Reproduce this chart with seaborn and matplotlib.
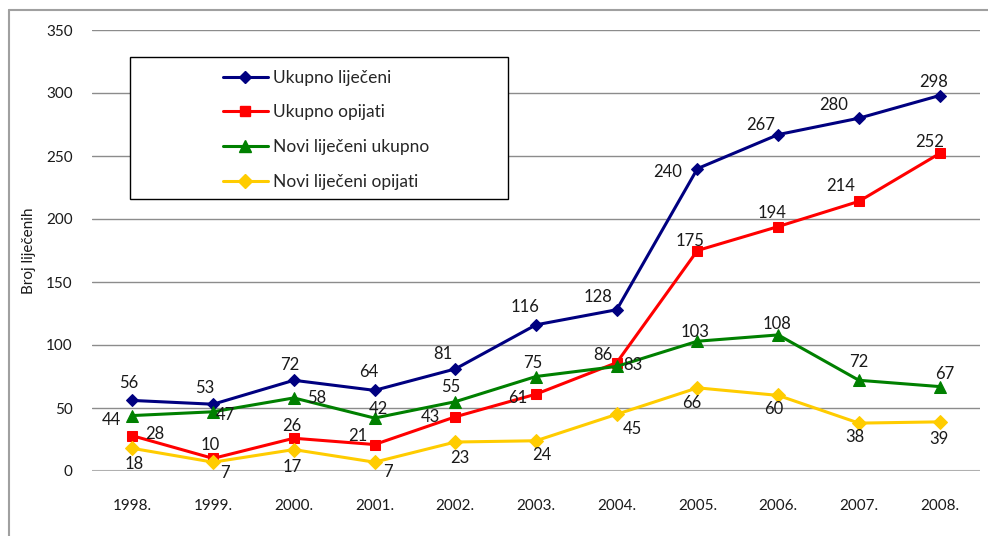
import numpy as np
import pandas as pd
import matplotlib.pyplot as plt
import seaborn as sns
from matplotlib.patches import Rectangle
from matplotlib.lines import Line2D

# --- data ---
years = ['1998.', '1999.', '2000.', '2001.', '2002.', '2003.',
         '2004.', '2005.', '2006.', '2007.', '2008.']
ukupno_lijeceni = [56, 53, 72, 64, 81, 116, 128, 240, 267, 280, 298]
ukupno_opijati = [28, 10, 26, 21, 43, 61, 86, 175, 194, 214, 252]
novi_ukupno = [44, 47, 58, 42, 55, 75, 83, 103, 108, 72, 67]
novi_opijati = [18, 7, 17, 7, 23, 24, 45, 66, 60, 38, 39]

series_names = ['Ukupno liječeni', 'Ukupno opijati',
                'Novi liječeni ukupno', 'Novi liječeni opijati']
series_values = [ukupno_lijeceni, ukupno_opijati, novi_ukupno, novi_opijati]

# style
colors = ['#000080', '#FF0000', '#008000', '#FFCC00']
markers = ['D', 's', '^', 'D']
msizes = [6, 7, 8, 7]

# label offsets in pixels (dx, dy; dy positive = down)
label_offsets = [
    [(-4, -17), (-8, -16), (-4, -15), (-6, -18), (-12, -15), (-11, -18),
     (-19, -13), (-30, 3), (-18, -10), (-25, -13), (-6, -14)],
    [(22, -2), (-3, -13), (-2, -12), (-17, -9), (-25, 0), (-18, 4),
     (-14, -8), (-7, -10), (-6, -14), (-18, -15), (-10, -11)],
    [(-21, 4), (12, 3), (23, 0), (4, -9), (-5, -15), (-3, -14),
     (16, -1), (-2, -9), (-1, -11), (0, -18), (5, -13)],
    [(2, 16), (12, 11), (-2, 17), (13, 10), (5, 16), (6, 14),
     (16, 15), (-6, 15), (-4, 14), (-4, 14), (-1, 17)],
]

rows = []
for name, vals in zip(series_names, series_values):
    for i, v in enumerate(vals):
        rows.append({'idx': i, 'value': v, 'series': name})
df = pd.DataFrame(rows)

sns.set_theme(style='white')
plt.rcParams['font.family'] = ['Lato', 'DejaVu Sans']

W, H = 988, 536
fig = plt.figure(figsize=(W / 100, H / 100), dpi=100)
ax = fig.add_axes([92 / W, 1 - 471 / H, 888 / W, 441 / H])

# outer chart border (top and left visible)
fig.add_artist(Line2D([9 / W, 9 / W], [0, 1 - 10 / H], transform=fig.transFigure,
                      color='#a0a0a0', lw=1.5))
fig.add_artist(Line2D([9 / W, 1], [1 - 10 / H, 1 - 10 / H], transform=fig.transFigure,
                      color='#a0a0a0', lw=1.5))

for k in [50, 100, 150, 200, 250, 300, 350]:
    ax.axhline(k, color='#8c8c8c', lw=1, zorder=0)
ax.axhline(0, color='#b0b0b0', lw=1.5, zorder=0)

for name, col, mk, ms in zip(series_names, colors, markers, msizes):
    sub = df[df['series'] == name]
    sns.lineplot(data=sub, x='idx', y='value', ax=ax, color=col, lw=2.2,
                 marker=mk, markersize=ms, markeredgecolor=col,
                 markerfacecolor=col, legend=False, zorder=3)

for vals, offs in zip(series_values, label_offsets):
    for i, (v, (dx, dy)) in enumerate(zip(vals, offs)):
        ax.annotate(str(v), (i, v), xytext=(dx * 0.72, -dy * 0.72),
                    textcoords='offset points', ha='center', va='center',
                    fontsize=12, color='#1a1a1a', zorder=5)

ax.set_xlim(-0.5, 10.5)
ax.set_ylim(0, 350)
ax.set_xticks(range(len(years)))
ax.set_xticklabels(years, fontsize=11, color='#1a1a1a')
ax.set_yticks(range(0, 351, 50))
ax.set_yticklabels([str(t) for t in range(0, 351, 50)], fontsize=11, color='#1a1a1a')
ax.tick_params(axis='x', length=0, pad=20)
ax.tick_params(axis='y', length=0, pad=14)
for s in ax.spines.values():
    s.set_visible(False)
ax.set_xlabel('')
ax.set_ylabel('Broj liječenih', fontsize=11, color='#1a1a1a', labelpad=7)

# legend box
bx0, bx1, by0, by1 = 130, 508, 57, 199
ax.add_patch(Rectangle(((bx0 - 92) / 888, (471 - by1) / 441),
                       (bx1 - bx0) / 888, (by1 - by0) / 441,
                       transform=ax.transAxes, fill=True, facecolor='white',
                       edgecolor='black', lw=1, zorder=4))
handles = [Line2D([0], [0], color=c, lw=2.2, marker=m, markersize=s,
                  markerfacecolor=c, markeredgecolor=c)
           for c, m, s in zip(colors, markers, msizes)]
leg = ax.legend(handles, series_names, loc='upper left',
                bbox_to_anchor=((214 - 92) / 888, (471 - 61) / 441),
                frameon=False, fontsize=12.5, handlelength=2.6,
                handletextpad=0.3, labelspacing=1.08, borderpad=0)
leg.set_zorder(6)

plt.savefig('out.png', dpi=100)
